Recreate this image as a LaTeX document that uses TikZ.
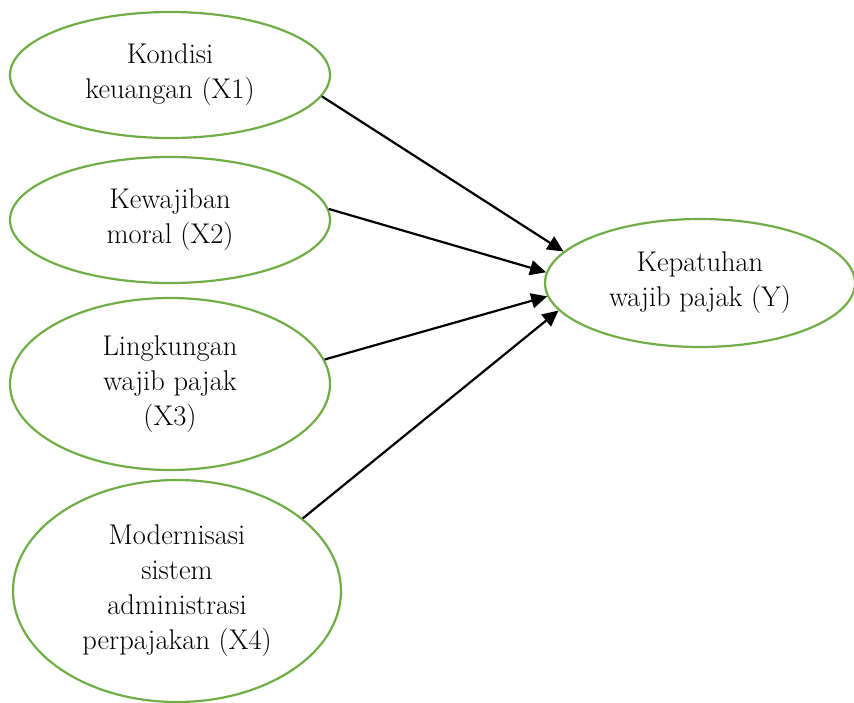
\documentclass[tikz,border=0pt]{standalone}
\usepackage{fontspec}
\setmainfont{Latin Modern Roman}
\usetikzlibrary{shapes.geometric,arrows.meta}
\definecolor{ovalgreen}{RGB}{112,173,71}
\begin{document}
\begin{tikzpicture}[x=1pt,y=-1pt,
  oval/.style={ellipse,draw=ovalgreen,line width=2.2pt,inner sep=0pt,align=center,
    font=\fontsize{28.5}{35}\selectfont},
  link/.style={line width=2.2pt,-{Triangle[length=16pt,width=15pt]}}]
\useasboundingbox (0,0) rectangle (854,702);
\node[oval,minimum width=320pt,minimum height=126pt] (x1) at (170,75) {Kondisi\\keuangan (X1)};
\node[oval,minimum width=320pt,minimum height=126pt] (x2) at (170,220) {Kewajiban\\moral (X2)};
\node[oval,minimum width=320pt,minimum height=172pt] (x3) at (170,384) {Lingkungan\\wajib pajak\\(X3)};
\node[oval,minimum width=328pt,minimum height=222pt] (x4) at (177,591) {Modernisasi\\sistem\\administrasi\\perpajakan (X4)};
\node[oval,minimum width=310pt,minimum height=128pt] (y) at (700,283) {Kepatuhan\\wajib pajak (Y)};
\draw[link] (x1.-8.7) -- (y.167.3);
\draw[link] (x2.4.6) -- (y.176);
\draw[link] (x3.9.7) -- (y.185.4);
\draw[link] (x4.30.5) -- (y.191.1);
\end{tikzpicture}
\end{document}
